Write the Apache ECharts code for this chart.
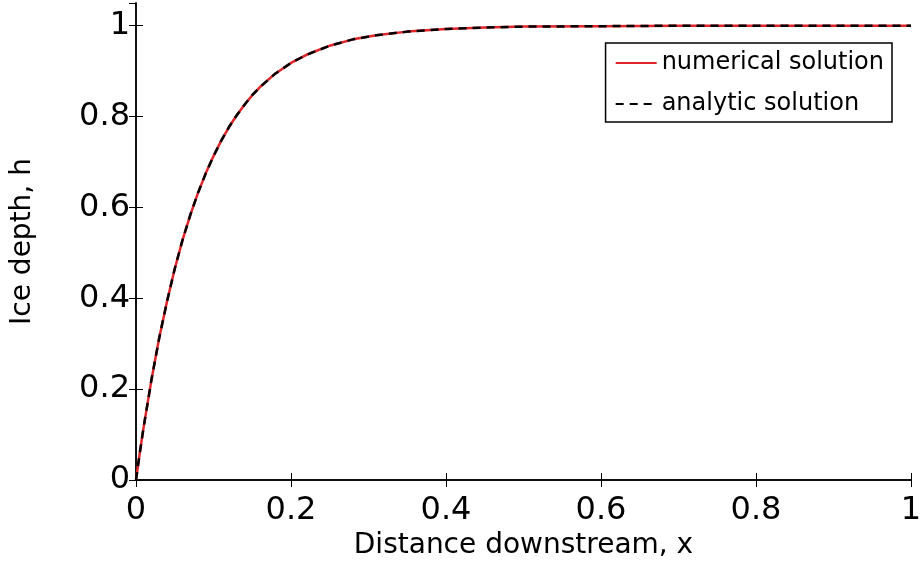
<!DOCTYPE html>
<html lang="en" style="height: 100%">
<head>
  <meta charset="utf-8">
</head>
<body style="height: 100%; margin: 0; background: #fff">
  <div id="container" style="width: 920px; height: 563px"></div>

  <script type="text/javascript" src="https://fastly.jsdelivr.net/npm/echarts@6/dist/echarts.min.js"></script>

  <script type="text/javascript">
    // distance downstream x
    var xValues = [0, 0.005, 0.01, 0.02, 0.03, 0.04, 0.05, 0.06, 0.07, 0.08, 0.09, 0.10,
      0.11, 0.12, 0.13, 0.14, 0.15, 0.16, 0.18, 0.20, 0.22, 0.25, 0.28, 0.31, 0.35, 0.40, 0.45,
      0.50, 0.60, 0.70, 0.80, 0.90, 1.00];
    // ice depth h, numerical solution
    var numericalH = [0, 0.061, 0.118, 0.221, 0.313, 0.393, 0.465, 0.528, 0.583, 0.632, 0.675, 0.713,
      0.747, 0.777, 0.803, 0.826, 0.847, 0.865, 0.895, 0.918, 0.936, 0.956, 0.970, 0.979, 0.987, 0.993, 0.996,
      0.998, 0.999, 1.0, 1.0, 1.0, 1.0];
    // ice depth h, analytic solution
    var analyticH = [0, 0.061, 0.118, 0.221, 0.313, 0.393, 0.465, 0.528, 0.583, 0.632, 0.675, 0.713,
      0.747, 0.777, 0.803, 0.826, 0.847, 0.865, 0.895, 0.918, 0.936, 0.956, 0.970, 0.979, 0.987, 0.993, 0.996,
      0.998, 0.999, 1.0, 1.0, 1.0, 1.0];

    var FONT = 'DejaVu Sans, Liberation Sans, Arial, sans-serif';

    function pairs(xs, ys) {
      return xs.map(function (x, i) { return [x, ys[i]]; });
    }

    var myChart = echarts.init(document.getElementById('container'), null, {
      renderer: 'canvas'
    });

    var axisLineStyle = { show: true, lineStyle: { color: '#000', width: 1.5 } };
    var tickStyle = { show: true, inside: true, length: 7, lineStyle: { color: '#000', width: 1 } };

    var option = {
      backgroundColor: '#fff',
      animation: false,
      grid: { left: 136, right: 9, top: 3, bottom: 83, containLabel: false, outerBoundsMode: 'none' },
      legend: {
        orient: 'vertical',
        right: 28,
        top: 43,
        padding: [5, 8, 3, 9],
        itemGap: 11,
        itemWidth: 41,
        itemHeight: 14,
        borderColor: '#000',
        borderWidth: 1.5,
        borderRadius: 0,
        backgroundColor: '#fff',
        itemStyle: { color: 'transparent', borderWidth: 0 },
        lineStyle: { width: 2.2 },
        textStyle: { fontFamily: FONT, fontSize: 24, color: '#000', lineHeight: 30 },
        data: ['numerical solution', 'analytic solution']
      },
      xAxis: [
        {
          type: 'value', min: 0, max: 1, interval: 0.2,
          name: 'Distance downstream, x', nameLocation: 'middle', nameGap: 52,
          nameTextStyle: { fontFamily: FONT, fontSize: 28, color: '#000' },
          axisLine: axisLineStyle, axisTick: tickStyle,
          axisLabel: { fontFamily: FONT, fontSize: 32, color: '#000', margin: 15 },
          splitLine: { show: false }
        },
        {
          type: 'value', min: 0, max: 1, interval: 0.2, position: 'top',
          axisLine: axisLineStyle, axisTick: tickStyle,
          axisLabel: { show: false }, splitLine: { show: false }
        }
      ],
      yAxis: [
        {
          type: 'value', min: 0, max: 1.05, interval: 0.2,
          name: 'Ice depth, h', nameLocation: 'middle', nameGap: 99, nameRotate: 90,
          nameTextStyle: { fontFamily: FONT, fontSize: 28, color: '#000' },
          axisLine: axisLineStyle, axisTick: tickStyle,
          axisLabel: {
            fontFamily: FONT, fontSize: 32, color: '#000', margin: 6,
            showMaxLabel: false,
            formatter: function (v) { return v > 1.001 ? '' : String(+v.toFixed(1)); }
          },
          splitLine: { show: false }
        },
        {
          type: 'value', min: 0, max: 1.05, interval: 0.2, position: 'right',
          axisLine: axisLineStyle, axisTick: tickStyle,
          axisLabel: { show: false }, splitLine: { show: false }
        }
      ],
      series: [
        {
          name: 'numerical solution',
          type: 'line',
          data: pairs(xValues, numericalH),
          showSymbol: false, symbol: 'none',
          smooth: false,
          lineStyle: { color: '#e0252a', width: 2.5 },
          itemStyle: { color: '#e0252a' }
        },
        {
          name: 'analytic solution',
          type: 'line',
          data: pairs(xValues, analyticH),
          showSymbol: false, symbol: 'none',
          smooth: false,
          lineStyle: { color: '#000', width: 2.5, type: [8, 6] },
          itemStyle: { color: '#000' }
        }
      ]
    };

    myChart.setOption(option);
  </script>
</body>
</html>
